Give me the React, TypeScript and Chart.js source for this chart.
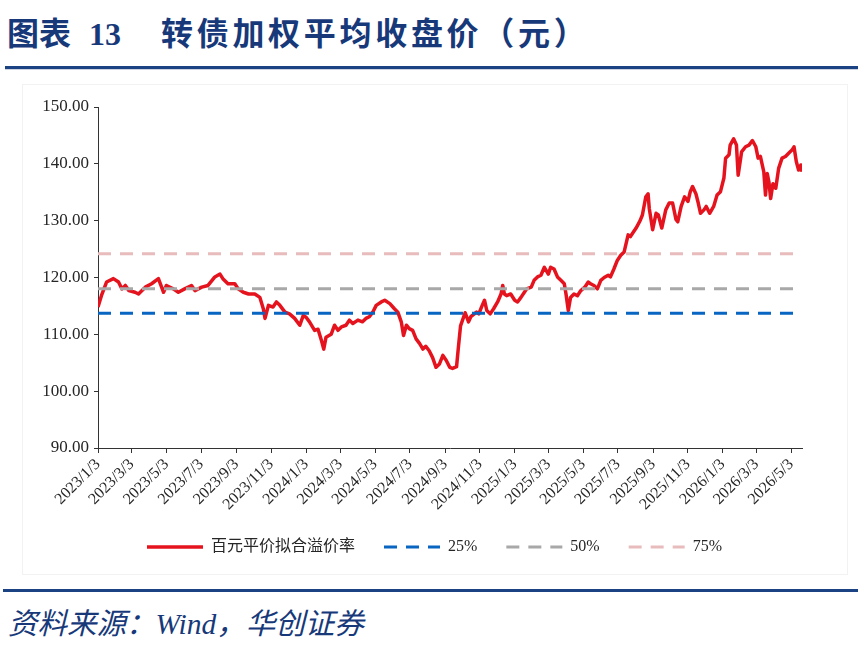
import React, { useEffect, useRef } from 'react';
import { Chart, registerables } from 'chart.js';

Chart.register(...registerables);

const dates = [
  "2023-01-03","2023-01-09","2023-01-18","2023-01-30","2023-02-08","2023-02-14","2023-02-20","2023-02-26","2023-03-09","2023-03-15",
  "2023-03-27","2023-04-07","2023-04-19","2023-04-28","2023-05-03","2023-05-15","2023-05-24","2023-06-04","2023-06-16","2023-06-22",
  "2023-07-04","2023-07-15","2023-07-27","2023-08-05","2023-08-10","2023-08-19","2023-08-31","2023-09-06","2023-09-15","2023-09-24",
  "2023-10-05","2023-10-14","2023-10-20","2023-10-23","2023-10-29","2023-11-06",
  "2023-11-12","2023-11-18","2023-11-27","2023-12-05","2023-12-14","2023-12-23","2023-12-29","2024-01-03","2024-01-09","2024-01-18",
  "2024-01-24","2024-01-30","2024-02-03","2024-02-07","2024-02-16","2024-02-22","2024-02-28","2024-03-05","2024-03-13","2024-03-19",
  "2024-03-25","2024-04-03","2024-04-11","2024-04-17","2024-04-23","2024-04-29","2024-05-05","2024-05-14","2024-05-20","2024-05-29",
  "2024-06-06","2024-06-12","2024-06-18","2024-06-22","2024-06-27","2024-07-02","2024-07-08","2024-07-14","2024-07-20","2024-07-26",
  "2024-07-31","2024-08-06","2024-08-12","2024-08-18","2024-08-24","2024-08-30","2024-09-05","2024-09-11","2024-09-16","2024-09-23",
  "2024-09-26","2024-09-30",
  "2024-10-08","2024-10-14","2024-10-18","2024-10-28","2024-11-01","2024-11-07","2024-11-11","2024-11-15","2024-11-21","2024-11-27",
  "2024-12-04","2024-12-10","2024-12-13","2024-12-16","2024-12-20","2024-12-27","2025-01-03","2025-01-08","2025-01-14","2025-01-20",
  "2025-01-24","2025-02-01","2025-02-06","2025-02-12","2025-02-18","2025-02-24","2025-03-03","2025-03-07","2025-03-13","2025-03-19",
  "2025-03-25","2025-03-31","2025-04-03","2025-04-07","2025-04-11","2025-04-17","2025-04-23","2025-04-29","2025-05-06","2025-05-12",
  "2025-05-16","2025-05-22","2025-05-28","2025-06-03","2025-06-09","2025-06-16","2025-06-20","2025-06-26","2025-07-02","2025-07-08",
  "2025-07-14",
  "2025-07-21","2025-07-25","2025-08-04","2025-08-11","2025-08-15","2025-08-21","2025-08-25","2025-08-27","2025-09-02","2025-09-08",
  "2025-09-12","2025-09-18","2025-09-25","2025-10-01","2025-10-07","2025-10-13","2025-10-16","2025-10-22","2025-10-28","2025-11-03",
  "2025-11-07","2025-11-11","2025-11-17","2025-11-21","2025-11-25","2025-12-01","2025-12-05","2025-12-11","2025-12-18","2025-12-24",
  "2025-12-30","2026-01-05","2026-01-08","2026-01-14","2026-01-16","2026-01-22","2026-01-27","2026-01-30","2026-02-05","2026-02-12",
  "2026-02-18","2026-02-24","2026-03-02","2026-03-06","2026-03-10","2026-03-16","2026-03-19","2026-03-22","2026-03-25","2026-03-28",
  "2026-04-01","2026-04-06","2026-04-11","2026-04-17","2026-04-23","2026-04-29","2026-05-05","2026-05-08","2026-05-12","2026-05-16",
  "2026-05-20","2026-05-22"
];

const prices = [
  114.8,116.8,119.2,119.8,119.2,118.0,118.6,117.7,117.4,117.1,
  118.3,118.9,119.8,117.4,118.6,118.0,117.4,118.0,118.6,117.7,
  118.3,118.6,120.1,120.6,119.8,118.9,118.9,118.0,117.4,117.1,
  117.1,116.5,114.5,112.8,115.1,114.8,
  115.7,115.1,113.9,113.6,112.8,111.6,113.3,113.0,112.2,110.7,
  110.9,108.9,107.4,109.5,110.0,111.6,110.7,111.3,111.6,112.5,
  111.9,112.5,112.2,112.8,113.1,113.9,115.1,115.7,116.0,115.4,
  114.5,113.9,112.2,109.8,111.6,111.0,110.7,109.2,108.4,107.4,
  107.9,107.1,105.9,104.2,104.8,106.3,105.4,104.2,104.0,104.3,
  107.5,111.5,
  113.8,112.2,113.1,113.9,113.6,115.1,116.0,114.2,113.6,114.5,
  115.7,117.1,118.6,117.1,116.8,117.1,116.0,115.7,116.5,117.4,
  118.0,118.3,119.5,120.1,120.4,121.8,120.6,121.8,121.5,120.1,
  119.5,118.9,117.1,114.2,116.5,117.1,116.8,117.7,118.3,119.2,
  118.9,118.6,118.0,119.5,120.0,120.4,120.1,121.5,123.0,123.9,
  124.5,
  127.5,127.2,128.7,130.0,131.0,134.2,134.7,132.2,128.4,131.3,
  131.0,128.7,131.9,133.1,133.1,130.2,129.8,132.5,134.2,133.4,
  135.1,136.0,134.7,133.1,131.3,131.9,132.5,131.3,132.5,134.5,
  135.1,137.5,141.0,141.6,143.3,144.4,143.3,138.0,142.1,143.0,
  143.3,144.1,143.0,141.0,141.3,138.6,134.5,138.3,136.8,133.9,
  136.5,135.7,139.2,141.0,141.3,141.9,142.5,143.0,140.4,138.9,
  139.8,138.6
];

const tickLabels = [
  "2023/1/3","2023/3/3","2023/5/3","2023/7/3","2023/9/3","2023/11/3",
  "2024/1/3","2024/3/3","2024/5/3","2024/7/3","2024/9/3","2024/11/3",
  "2025/1/3","2025/3/3","2025/5/3","2025/7/3","2025/9/3","2025/11/3",
  "2026/1/3","2026/3/3","2026/5/3"
];

const seriesLabels = ["百元平价拟合溢价率", "25%", "50%", "75%"];
const percentileValues = [113.7, 118.0, 124.2];
const yMin = 90;
const yMax = 150;
const yStep = 10;

const DAY_MS = 86400000;
const BASE = Date.UTC(2023, 0, 3);
function toDay(y: number, m: number, d: number) {
  return Math.round((Date.UTC(y, m - 1, d) - BASE) / DAY_MS);
}
function isoToDay(s: string) {
  const [y, m, d] = s.split('-').map(Number);
  return toDay(y, m, d);
}
function slashToDay(s: string) {
  const [y, m, d] = s.split('/').map(Number);
  return toDay(y, m, d);
}

const SERIF = "'Liberation Serif', 'Times New Roman', 'Noto Sans CJK SC', serif";
const NAVY = '#17397a';
const TEXT = '#262626';
const LEGEND_SHIFT = 28.5;

export default function App() {
  const ref = useRef<HTMLCanvasElement | null>(null);

  useEffect(() => {
    if (!ref.current) return;
    const xs = dates.map(isoToDay);
    const xMin = xs[0];
    const xMax = xs[xs.length - 1];
    const tickDays = tickLabels.map(slashToDay);
    const mainData = xs.map((x, i) => ({ x, y: prices[i] }));
    const flat = (v: number) => [{ x: xMin, y: v }, { x: xMax, y: v }];
    const dash = [13, 9];

    const chart = new Chart(ref.current, {
      type: 'line',
      data: {
        datasets: [
          {
            label: seriesLabels[0],
            data: mainData,
            borderColor: '#e5131d',
            backgroundColor: '#e5131d',
            borderWidth: 3.5,
            pointRadius: 0,
            tension: 0,
            borderJoinStyle: 'round',
            order: 4,
          },
          {
            label: seriesLabels[1],
            data: flat(percentileValues[0]),
            borderColor: '#0866c2',
            backgroundColor: '#0866c2',
            borderWidth: 3,
            borderDash: dash,
            pointRadius: 0,
            order: 3,
          },
          {
            label: seriesLabels[2],
            data: flat(percentileValues[1]),
            borderColor: '#a8a8a8',
            backgroundColor: '#a8a8a8',
            borderWidth: 3,
            borderDash: dash,
            pointRadius: 0,
            order: 2,
          },
          {
            label: seriesLabels[3],
            data: flat(percentileValues[2]),
            borderColor: '#e8bcbc',
            backgroundColor: '#e8bcbc',
            borderWidth: 3,
            borderDash: dash,
            pointRadius: 0,
            order: 1,
          },
        ],
      } as any,
      options: {
        animation: false,
        responsive: false,
        maintainAspectRatio: false,
        layout: { padding: { left: 10, right: 59, top: 27, bottom: 15 } },
        plugins: {
          tooltip: { enabled: false },
          legend: {
            position: 'bottom',
            labels: {
              usePointStyle: true,
              pointStyleWidth: 56,
              boxHeight: 16,
              padding: 29,
              color: TEXT,
              font: { family: SERIF, size: 16 },
              generateLabels: (c: any) =>
                c.data.datasets.map((ds: any, i: number) => ({
                  text: ds.label,
                  fillStyle: ds.borderColor,
                  strokeStyle: ds.borderColor,
                  lineWidth: ds.borderWidth,
                  lineDash: ds.borderDash || [],
                  lineCap: 'butt',
                  pointStyle: 'line',
                  hidden: false,
                  fontColor: TEXT,
                  datasetIndex: i,
                })),
            },
          },
        },
        scales: {
          x: {
            type: 'linear',
            min: xMin,
            max: xMax,
            afterBuildTicks: (s: any) => {
              s.ticks = tickDays.map((v) => ({ value: v }));
            },
            afterFit: (s: any) => {
              s.height = 62;
            },
            ticks: {
              autoSkip: false,
              maxRotation: 45,
              minRotation: 45,
              padding: 2,
              color: TEXT,
              font: { family: SERIF, size: 16 },
              callback: (_v: any, i: number) => tickLabels[i],
            },
            grid: { drawOnChartArea: false, drawTicks: true, tickLength: 5, color: '#333' },
            border: { display: true, color: '#333', width: 1 },
          },
          y: {
            min: yMin,
            max: yMax,
            afterFit: (s: any) => {
              s.width = 88;
            },
            ticks: {
              stepSize: yStep,
              padding: 5,
              color: TEXT,
              font: { family: SERIF, size: 17 },
              callback: (v: any) => Number(v).toFixed(2),
            },
            grid: { drawOnChartArea: false, drawTicks: true, tickLength: 4, color: '#333' },
            border: { display: true, color: '#333', width: 1 },
          },
        },
      } as any,
      plugins: [
        {
          id: 'shiftLegend',
          afterLayout(c: any) {
            const lg = c.legend;
            if (lg) {
              lg.left += LEGEND_SHIFT;
              lg.right += LEGEND_SHIFT;
            }
          },
        },
      ],
    });
    return () => chart.destroy();
  }, []);

  return (
    <div style={{ position: 'absolute', left: 0, top: 0, width: 861, height: 653, background: '#fff', overflow: 'hidden' }}>
      <div
        style={{
          position: 'absolute', left: 7, top: 12, whiteSpace: 'nowrap', color: NAVY,
          fontFamily: "'Noto Sans CJK SC', sans-serif", fontWeight: 700, fontSize: 32, lineHeight: '38px',
        }}
      >
        <span>图表</span>
        <span style={{ fontFamily: "'Liberation Serif', serif", marginLeft: 18 }}>13</span>
        <span style={{ marginLeft: 40, letterSpacing: 3.7 }}>转债加权平均收盘价（元）</span>
      </div>
      <div style={{ position: 'absolute', left: 5, top: 66, width: 853, height: 3, background: '#1b4384' }} />
      <div style={{ position: 'absolute', left: 5, top: 69, width: 853, height: 1, background: '#cdd4e0' }} />
      <div style={{ position: 'absolute', left: 22, top: 84, width: 826, height: 491, border: '1px solid #f2f2f2', boxSizing: 'border-box' }} />
      <canvas ref={ref} width={861} height={500} style={{ position: 'absolute', left: 0, top: 80, width: 861, height: 500 }} />
      <div style={{ position: 'absolute', left: 3, top: 589, width: 855, height: 3, background: '#1b4384' }} />
      <div
        style={{
          position: 'absolute', left: 8, top: 606, whiteSpace: 'nowrap', color: NAVY, fontStyle: 'italic',
          fontFamily: "'Liberation Serif', 'Noto Sans CJK SC', serif", fontSize: 29.5, lineHeight: '36px',
        }}
      >
        资料来源：Wind，华创证券
      </div>
    </div>
  );
}
